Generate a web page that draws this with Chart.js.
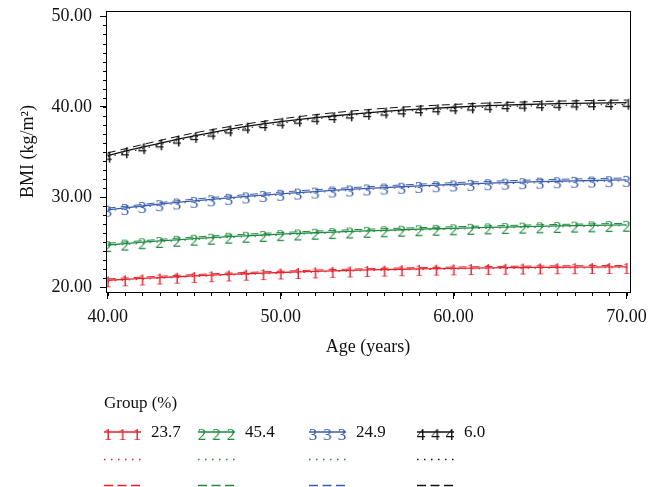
<!DOCTYPE html>
<html>
<head>
<meta charset="utf-8">
<script src="https://cdn.jsdelivr.net/npm/chart.js@4.4.1/dist/chart.umd.min.js"></script>
<style>
  html, body { margin: 0; padding: 0; background: #fff; }
  #caixa { width: 662px; height: 487px; }
</style>
</head>
<body>
<div id="caixa"><canvas id="graficoImc"></canvas></div>
<script>
// Dados do gráfico
const idades = [40, 41, 42, 43, 44, 45, 46, 47, 48, 49, 50, 51, 52, 53, 54, 55,
  56, 57, 58, 59, 60, 61, 62, 63, 64, 65, 66, 67, 68, 69, 70];
const idadesCurvas = [40, 45, 50, 55, 60, 65, 70];

const ticksX = [40, 50, 60, 70];
const ticksY = [20, 30, 40, 50];

const grupos = ["1", "2", "3", "4"];
const percentuais = ["23.7", "45.4", "24.9", "6.0"];
const cores = ["#e8222b", "#1e8a3e", "#3a5dae", "#111111"];

// linha sólida (com os números)
const imcGrupo1 = [20.80, 20.90, 21.00, 21.10, 21.19, 21.28, 21.36, 21.44, 21.52, 21.59, 21.66,
  21.72, 21.78, 21.84, 21.89, 21.94, 21.98, 22.02, 22.06, 22.09, 22.12,
  22.15, 22.17, 22.19, 22.21, 22.23, 22.24, 22.25, 22.26, 22.27, 22.28];
const imcGrupo2 = [24.70, 24.86, 25.01, 25.15, 25.28, 25.40, 25.51, 25.62, 25.72, 25.81, 25.90,
  25.98, 26.06, 26.13, 26.20, 26.27, 26.33, 26.39, 26.45, 26.50, 26.55,
  26.60, 26.65, 26.69, 26.73, 26.77, 26.81, 26.85, 26.88, 26.91, 26.94];
const imcGrupo3 = [28.60, 28.81, 29.02, 29.22, 29.41, 29.59, 29.76, 29.92, 30.08, 30.23, 30.37,
  30.50, 30.62, 30.74, 30.85, 30.96, 31.06, 31.15, 31.24, 31.32, 31.40,
  31.47, 31.54, 31.60, 31.66, 31.71, 31.76, 31.80, 31.84, 31.88, 31.91];
const imcGrupo4 = [34.60, 35.08, 35.53, 35.96, 36.38, 36.78, 37.15, 37.50, 37.82, 38.10, 38.35,
  38.58, 38.79, 38.98, 39.16, 39.33, 39.48, 39.62, 39.74, 39.85, 39.95,
  40.04, 40.12, 40.19, 40.25, 40.30, 40.34, 40.38, 40.41, 40.43, 40.45];

// linhas pontilhadas
const pontilhado1 = [20.70, 21.20, 21.58, 21.86, 22.03, 22.14, 22.19];
const pontilhado2 = [24.60, 25.30, 25.80, 26.18, 26.46, 26.67, 26.84];
const pontilhado3 = [28.48, 29.47, 30.25, 30.84, 31.28, 31.59, 31.80];
const pontilhado4 = [34.45, 36.63, 38.18, 39.22, 39.80, 40.12, 40.26];

// linhas tracejadas
const tracejado1 = [20.95, 21.43, 21.80, 22.08, 22.26, 22.38, 22.44];
const tracejado2 = [24.90, 25.58, 26.08, 26.45, 26.72, 26.94, 27.10];
const tracejado3 = [28.78, 29.78, 30.56, 31.15, 31.60, 31.92, 32.12];
const tracejado4 = [34.90, 37.10, 38.65, 39.68, 40.26, 40.58, 40.75];

const solidos = [imcGrupo1, imcGrupo2, imcGrupo3, imcGrupo4];
const pontilhados = [pontilhado1, pontilhado2, pontilhado3, pontilhado4];
const tracejados = [tracejado1, tracejado2, tracejado3, tracejado4];

const fonte = '"Liberation Serif", "Times New Roman", serif';
const PONTOS = [1.5, 5.5];
const TRACOS = [8, 5];

// Número usado como marcador (linha passa no alto do algarismo)
function criarMarcador(texto, cor) {
  const c = document.createElement("canvas");
  c.width = 14;
  c.height = 30;
  const g = c.getContext("2d");
  g.font = "17px " + fonte;
  g.fillStyle = cor;
  g.textAlign = "center";
  g.textBaseline = "alphabetic";
  g.fillText(texto, 7, 22);
  return c;
}
const marcadores = grupos.map((g, i) => criarMarcador(g, cores[i]));

function pares(xs, ys) {
  return xs.map((x, i) => ({ x: x, y: ys[i] }));
}

const datasets = [];
grupos.forEach((g, i) => {
  datasets.push({
    label: "Grupo " + g,
    data: pares(idades, solidos[i]),
    borderColor: cores[i],
    borderWidth: 1.3,
    pointStyle: marcadores[i],
    pointRadius: 4,
  });
  datasets.push({
    label: "Grupo " + g + " pontilhado",
    data: pares(idadesCurvas, pontilhados[i]),
    borderColor: cores[i],
    borderWidth: 1,
    borderDash: PONTOS,
    pointRadius: 0,
    cubicInterpolationMode: "monotone",
  });
  datasets.push({
    label: "Grupo " + g + " tracejado",
    data: pares(idadesCurvas, tracejados[i]),
    borderColor: cores[i],
    borderWidth: 1,
    borderDash: TRACOS,
    pointRadius: 0,
    cubicInterpolationMode: "monotone",
  });
});

// Moldura, ticks menores e legenda
const extras = {
  id: "extras",
  afterDraw(chart) {
    const { ctx, chartArea: a, scales } = chart;
    const x = scales.x;
    const y = scales.y;
    ctx.save();
    ctx.strokeStyle = "#000";
    ctx.lineWidth = 1;
    ctx.strokeRect(a.left + 0.5, a.top + 0.5, a.right - a.left, a.bottom - a.top);

    ctx.beginPath();
    for (let v = ticksX[0]; v <= ticksX[ticksX.length - 1]; v++) {
      const px = Math.round(x.getPixelForValue(v)) + 0.5;
      ctx.moveTo(px, a.bottom);
      ctx.lineTo(px, a.bottom + 4);
    }
    for (let v = ticksY[0]; v <= ticksY[ticksY.length - 1]; v++) {
      const py = Math.round(y.getPixelForValue(v)) + 0.5;
      ctx.moveTo(a.left, py);
      ctx.lineTo(a.left - 3, py);
    }
    ctx.stroke();

    // legenda
    ctx.fillStyle = "#111";
    ctx.font = "17px " + fonte;
    ctx.textAlign = "left";
    ctx.textBaseline = "alphabetic";
    ctx.fillText("Group (%)", 104, 408);

    const inicio = [104, 198, 309, 417];
    const largura = 37;
    grupos.forEach((g, i) => {
      const x0 = inicio[i];
      ctx.setLineDash([]);
      ctx.strokeStyle = cores[i];
      ctx.lineWidth = 1.3;
      ctx.beginPath();
      ctx.moveTo(x0, 432);
      ctx.lineTo(x0 + largura, 432);
      ctx.stroke();
      [4, 18.5, 33].forEach((dx) => {
        const m = marcadores[i];
        ctx.drawImage(m, x0 + dx - m.width / 2, 433 - m.height / 2);
      });
      ctx.fillStyle = "#111";
      ctx.fillText(percentuais[i], x0 + 47, 437);

      ctx.strokeStyle = cores[i];
      ctx.lineWidth = 1.3;
      ctx.setLineDash(PONTOS);
      ctx.beginPath();
      ctx.moveTo(x0, 459.5);
      ctx.lineTo(x0 + largura, 459.5);
      ctx.stroke();

      ctx.strokeStyle = cores[i];
      ctx.lineWidth = 1.3;
      ctx.setLineDash([9, 4.5]);
      ctx.beginPath();
      ctx.moveTo(x0, 485.5);
      ctx.lineTo(x0 + largura, 485.5);
      ctx.stroke();
    });
    ctx.restore();
  },
};

const config = {
  type: "line",
  data: { datasets: datasets },
  options: {
    responsive: true,
    maintainAspectRatio: false,
    animation: false,
    events: [],
    layout: { padding: { top: 11, right: 32, left: 0, bottom: 129 } },
    plugins: {
      legend: { display: false },
      tooltip: { enabled: false },
    },
    scales: {
      x: {
        type: "linear",
        min: 39.9,
        max: 70.2,
        afterBuildTicks: (s) => { s.ticks = ticksX.map((v) => ({ value: v })); },
        afterFit: (s) => {
          s.height = 66;
          s.paddingLeft = 0;
          s.paddingRight = 0;
        },
        ticks: {
          callback: (v) => v.toFixed(2),
          color: "#111",
          font: { family: fonte, size: 18 },
          padding: 7,
          maxRotation: 0,
        },
        grid: { drawOnChartArea: false, tickLength: 7, color: "#000" },
        border: { display: false },
        title: {
          display: true,
          text: "Age (years)",
          color: "#111",
          font: { family: fonte, size: 18 },
          padding: { top: 0, bottom: 0 },
        },
      },
      y: {
        type: "linear",
        min: 19.5,
        max: 50.6,
        afterBuildTicks: (s) => { s.ticks = ticksY.map((v) => ({ value: v })); },
        afterFit: (s) => {
          s.width = 106;
          s.paddingTop = 0;
          s.paddingBottom = 0;
        },
        ticks: {
          callback: (v) => v.toFixed(2),
          color: "#111",
          font: { family: fonte, size: 18 },
          padding: 8,
        },
        grid: { drawOnChartArea: false, tickLength: 6, color: "#000" },
        border: { display: false },
        title: {
          display: true,
          text: "BMI (kg/m²)",
          color: "#111",
          font: { family: fonte, size: 18 },
          padding: { top: 17, bottom: 0 },
        },
      },
    },
  },
  plugins: [extras],
};

const ctx = document.getElementById("graficoImc").getContext("2d");
const graficoImc = new Chart(ctx, config);
</script>
</body>
</html>
